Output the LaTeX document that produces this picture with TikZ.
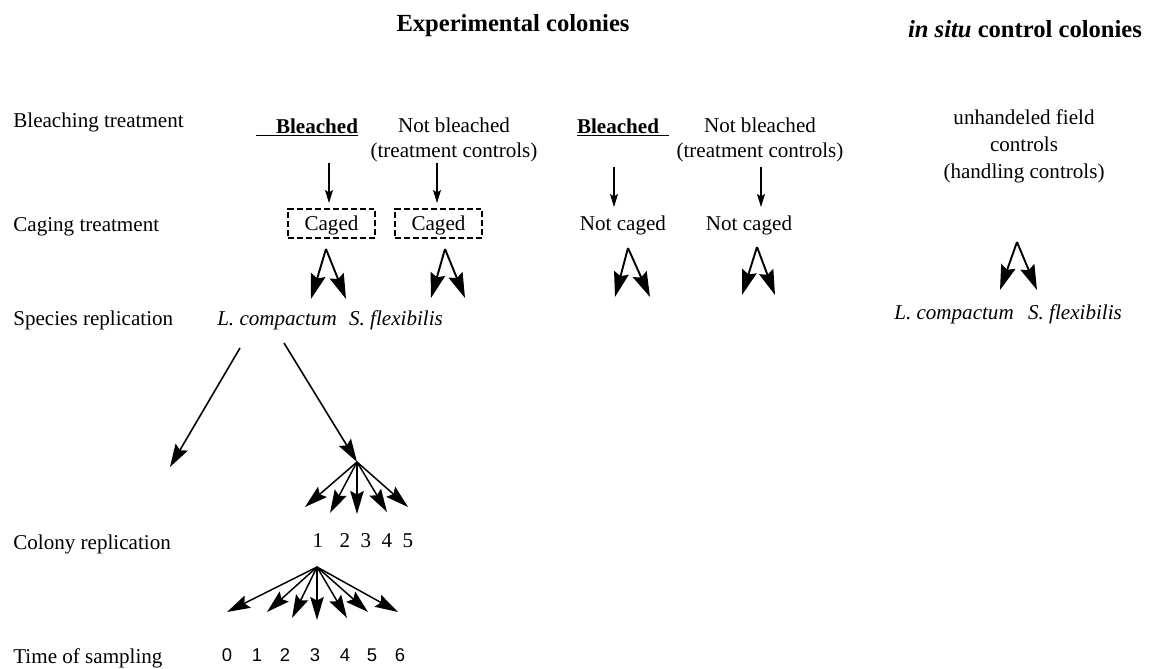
\documentclass[tikz,border=0pt]{standalone}
\usepackage{fontspec}
\setmainfont{Liberation Serif}
\setsansfont{Liberation Sans}
\usepackage{tikz}
\usetikzlibrary{arrows.meta}

\begin{document}
\begin{tikzpicture}[
					x=0.02cm, y=-0.02cm,
					every node/.style={
						inner sep=0pt,
						font=\fontsize{12}{14.2}\selectfont
					},
					heading/.style={
						anchor=base, font=\fontsize{14}{16}\selectfont\bfseries
					},
					rowlabel/.style={anchor=base west},
					twoline/.style={align=center},
					cagebox/.style={
						draw, line width=1.1pt, dash pattern=on 3.4pt off 1.7pt,
						minimum width=1.74cm, minimum height=0.58cm, text depth=0pt
					},
					downarr/.style={
						draw, black, line width=0.6pt, -{Stealth[length=2.6mm, width=1.6mm, inset=0.5mm]}
					},
					splitarr/.style={
						draw, black, line width=1.1pt, -{Stealth[length=5mm, width=3mm, inset=0.7mm]}
					},
					longarr/.style={
						draw, black, line width=0.9pt, -{Stealth[length=4.6mm, width=2.8mm, inset=0.7mm]}
					},
					fanarr/.style={
						draw, black, line width=0.85pt, -{Stealth[length=4.6mm, width=2.7mm, inset=0.7mm]}
					}
					]
					\useasboundingbox (0,0) rectangle (1150,669);
					
					% headings
					\node[heading] (expt) at (513,32) {Experimental colonies};
					\node[heading] (insitu) at (1025,38) {\textit{in situ} control colonies};
					
					% row labels
					\node[rowlabel] (rowbleach) at (13,128) {Bleaching treatment};
					\node[rowlabel] (rowcage) at (13,232) {Caging treatment};
					\node[rowlabel] (rowspecies) at (13,325) {Species replication};
					\node[rowlabel] (rowcolony) at (13,549) {Colony replication};
					\node[rowlabel] (rowtime) at (13,663) {Time of sampling};
					
					% bleaching treatment
					\node[anchor=base] (bl1) at (307,133) {\underline{\hspace{0.4cm}\textbf{Bleached}}};
					\node[twoline] (nb1) at (454,140) {Not bleached\\(treatment controls)};
					\node[anchor=base] (bl2) at (623,133) {\underline{\textbf{Bleached}\hspace{0.2cm}}};
					\node[twoline] (nb2) at (760,140) {Not bleached\\(treatment controls)};
					\node[align=center, font=\fontsize{12}{15.3}\selectfont] (field) at (1024,146)
						{unhandeled field\\controls\\(handling controls)};
					
					% caging treatment
					\node[cagebox] (cg1) at (331.5,223.5) {Caged};
					\node[cagebox] (cg2) at (438.5,223.5) {Caged};
					\node (nc1) at (623,225) {Not caged};
					\node (nc2) at (749,225) {Not caged};
					
					\foreach \n/\x/\ya/\yb in {1/329/163/203, 2/437/163/203, 3/614/167/207, 4/761/167/207} {
						\coordinate (dtop\n) at (\x,\ya);
						\coordinate (dbot\n) at (\x,\yb);
						\draw[downarr] (dtop\n) -- (dbot\n);
					}
					
					% species replication
					\foreach \n/\x/\y/\l/\r/\t in {1/326/249/311/346/299, 2/445/249/431/465/298,
						3/628/248/615/650/297, 4/757/247/742/775/295, 5/1017/242/1000/1037/290} {
						\coordinate (sp\n) at (\x,\y);
						\coordinate (spl\n) at (\l,\t);
						\coordinate (spr\n) at (\r,\t);
						\draw[splitarr] (sp\n) -- (spl\n);
						\draw[splitarr] (sp\n) -- (spr\n);
					}
					\node[anchor=base] (lc1) at (277,325) {\textit{L. compactum}};
					\node[anchor=base] (sf1) at (396,325) {\textit{S. flexibilis}};
					\node[anchor=base] (lc2) at (954,319) {\textit{L. compactum}};
					\node[anchor=base] (sf2) at (1075,319) {\textit{S. flexibilis}};
					
					% colony replication
					\coordinate (lcleft) at (240,348);
					\coordinate (lcleftend) at (170,467);
					\coordinate (lcright) at (284,343);
					\coordinate (colfan) at (357,462);
					\draw[longarr] (lcleft) -- (lcleftend);
					\draw[longarr] (lcright) -- (colfan);
					\foreach \x/\y [count=\i] in {305/507, 330/513, 357/514, 387/512, 408/507} {
						\coordinate (ct\i) at (\x,\y);
						\draw[fanarr] (colfan) -- (ct\i);
					}
					\foreach \d/\x in {1/318, 2/345, 3/366, 4/387, 5/408}
						\node[anchor=base] (rep\d) at (\x,547) {\d};
					
					% time of sampling
					\coordinate (timefan) at (317,567);
					\foreach \x/\y [count=\i] in {227/612, 267/612, 292/618, 317/620, 347/618, 368/612, 398/612} {
						\coordinate (tt\i) at (\x,\y);
						\draw[fanarr] (timefan) -- (tt\i);
					}
					\foreach \d/\x in {0/227, 1/257, 2/285, 3/315, 4/345, 5/372, 6/400}
						\node[anchor=base, font=\sffamily\fontsize{10.5}{12}\selectfont] (time\d) at (\x,661) {\d};
				\end{tikzpicture}
\end{document}
